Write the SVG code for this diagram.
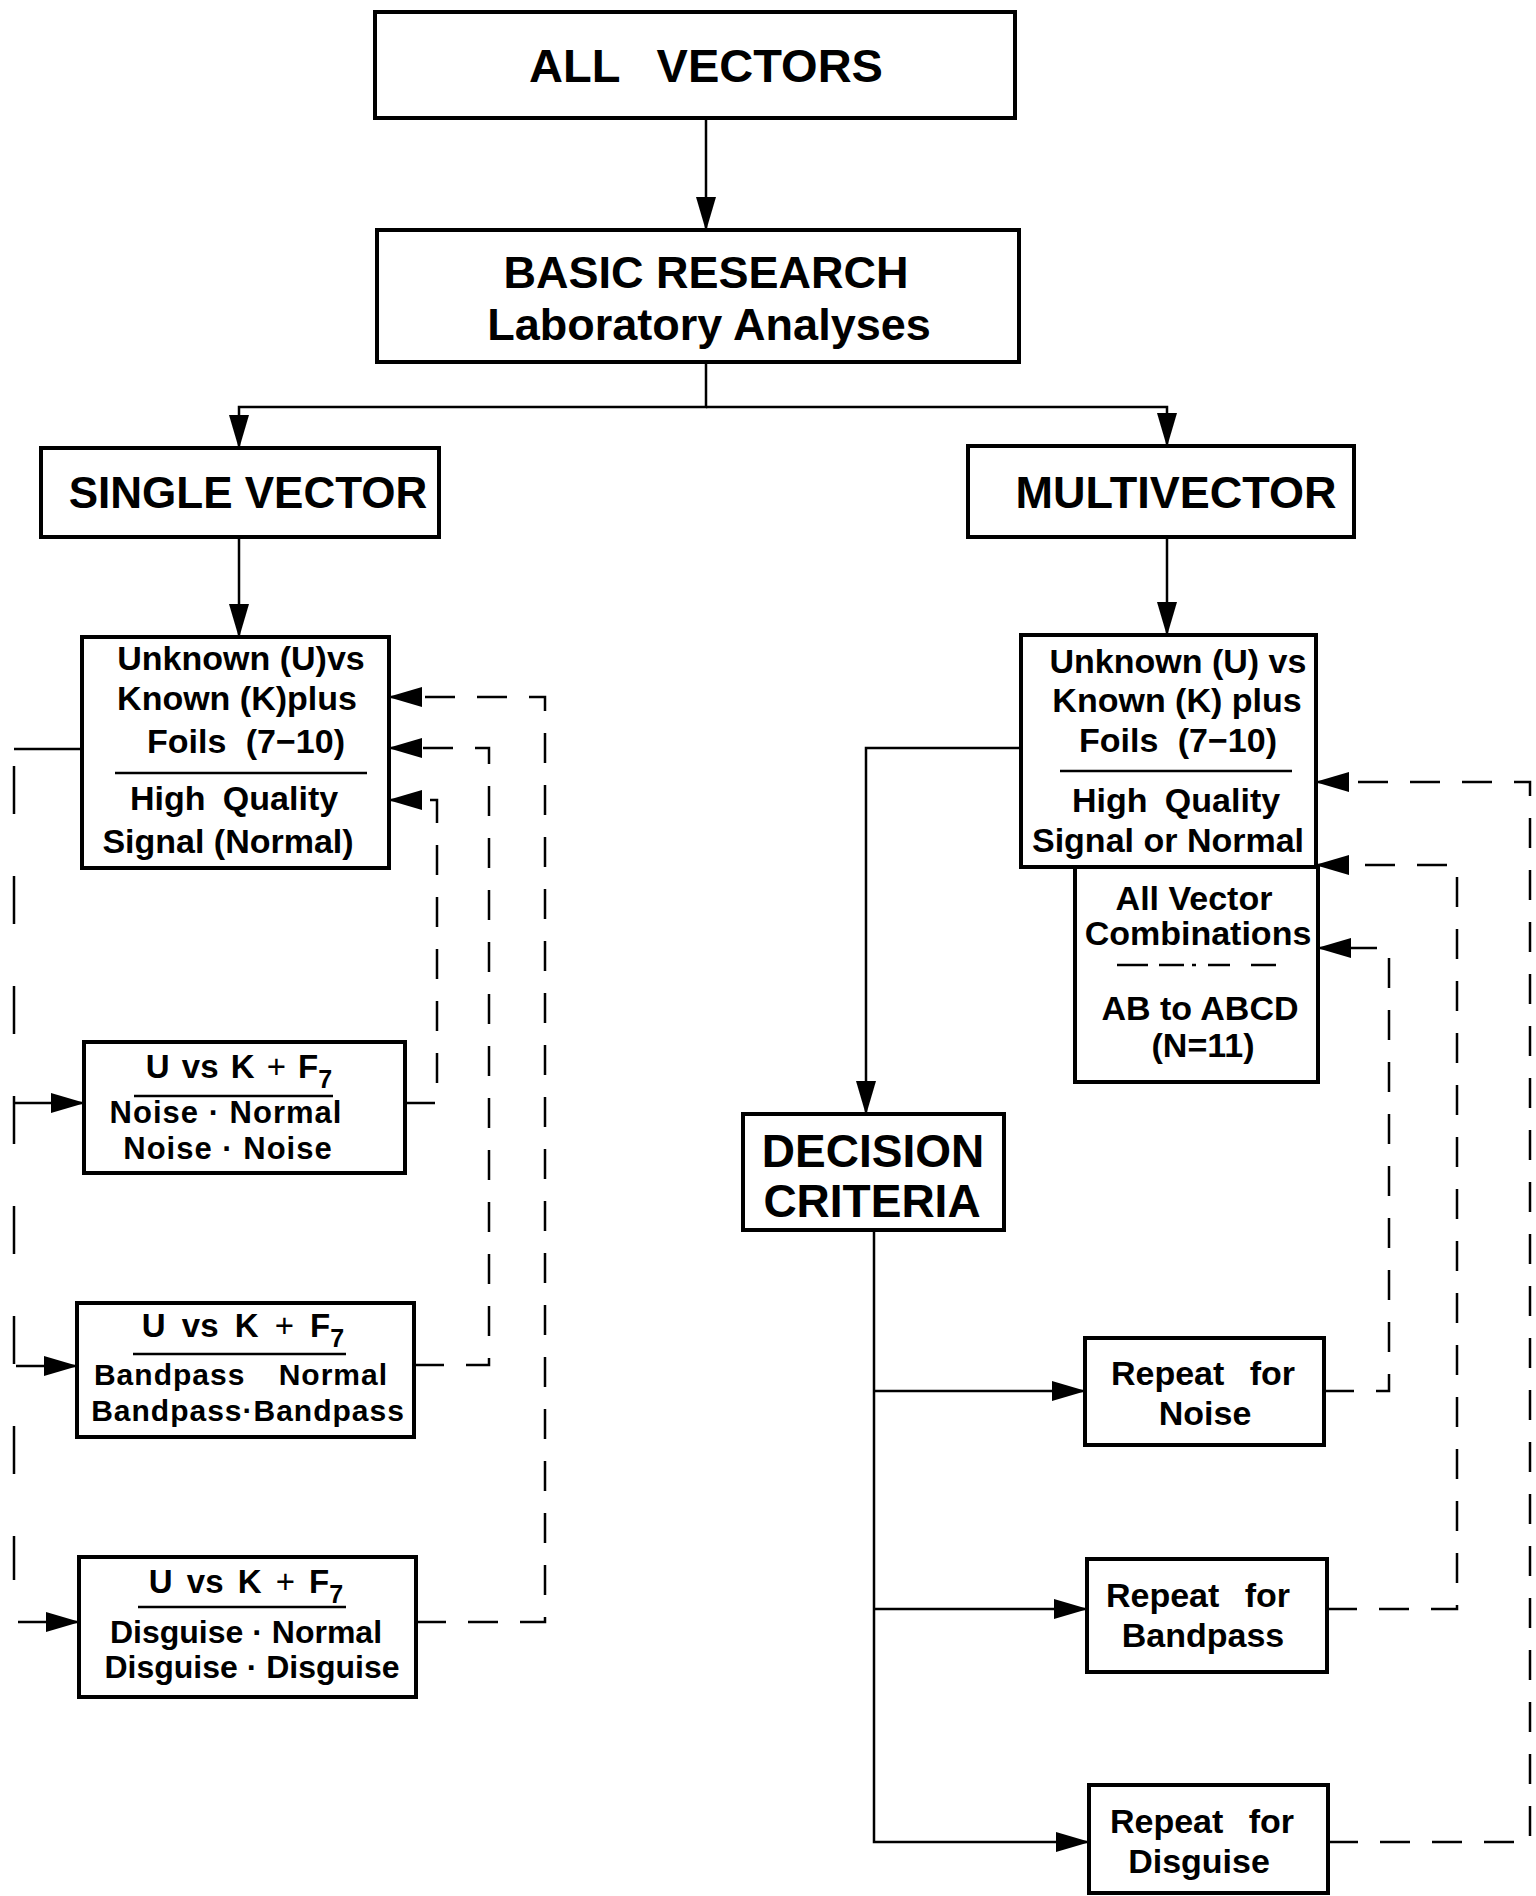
<svg xmlns="http://www.w3.org/2000/svg" width="1536" height="1896" viewBox="0 0 1536 1896">
<style>
.box{fill:#fff;stroke:#000;stroke-width:4}
.t{font-family:"Liberation Sans",Arial,Helvetica,sans-serif;font-weight:bold;fill:#000;text-anchor:middle}
.big{font-size:45px}
.m{font-size:34px}
.s{font-size:32px}
.c{fill:none;stroke:#000;stroke-width:2.5}
.d{stroke-dasharray:30 22}
.dl{stroke-dasharray:48 62}
.rule{stroke:#000;stroke-width:2.5}
.pl{font-weight:normal}
</style>
<defs>
<marker id="ah" markerUnits="userSpaceOnUse" markerWidth="34" markerHeight="20" refX="33" refY="10" orient="auto">
<path d="M0,0 L34,10 L0,20 Z" fill="#000"/>
</marker>
</defs>
<rect x="0" y="0" width="1536" height="1896" fill="#fff"/>

<g id="connectors">
<path class="c" d="M706,118 V230" marker-end="url(#ah)"/>
<path class="c" d="M706,362 V407 H239 V448" marker-end="url(#ah)"/>
<path class="c" d="M706,407 H1167 V446" marker-end="url(#ah)"/>
<path class="c" d="M239,537 V637" marker-end="url(#ah)"/>
<path class="c" d="M1167,537 V635" marker-end="url(#ah)"/>
<path class="c" d="M82,749 H14"/>
<path class="c dl" d="M14,766 V1580"/>
<path class="c" d="M14,1103 H84" marker-end="url(#ah)"/>
<path class="c" d="M16,1366 H77" marker-end="url(#ah)"/>
<path class="c" d="M18,1622 H79" marker-end="url(#ah)"/>
<path class="c d" d="M405,1103 H437 V800 H389" marker-end="url(#ah)"/>
<path class="c d" d="M414,1365 H489 V748 H389" marker-end="url(#ah)"/>
<path class="c d" d="M416,1622 H545 V697 H389" marker-end="url(#ah)"/>
<path class="c" d="M1021,748 H866 V1114" marker-end="url(#ah)"/>
<path class="c" d="M874,1230 V1842 H1089" marker-end="url(#ah)"/>
<path class="c" d="M874,1391 H1085" marker-end="url(#ah)"/>
<path class="c" d="M874,1609 H1087" marker-end="url(#ah)"/>
<path class="c d" d="M1324,1391 H1389 V948 H1318" marker-end="url(#ah)"/>
<path class="c d" d="M1327,1609 H1457 V865 H1316" marker-end="url(#ah)"/>
<path class="c d" d="M1328,1842 H1530 V782 H1316" marker-end="url(#ah)"/>
</g>

<g id="all-vectors">
<rect class="box" x="375" y="12" width="640" height="106"/>
<text class="t" x="706" y="82" font-size="47" word-spacing="24">ALL VECTORS</text>
</g>

<g id="basic-research">
<rect class="box" x="377" y="230" width="642" height="132"/>
<text class="t big" x="706" y="288">BASIC RESEARCH</text>
<text class="t big" x="709" y="340">Laboratory Analyses</text>
</g>

<g id="single-vector">
<rect class="box" x="41" y="448" width="398" height="89"/>
<text class="t" x="248" y="508" font-size="44">SINGLE VECTOR</text>
</g>

<g id="multivector">
<rect class="box" x="968" y="446" width="386" height="91"/>
<text class="t big" x="1176" y="508">MULTIVECTOR</text>
</g>

<g id="single-unknown">
<rect class="box" x="82" y="637" width="307" height="231"/>
<text class="t m" x="241" y="670">Unknown (U)vs</text>
<text class="t m" x="237" y="710">Known (K)plus</text>
<text class="t m" x="246" y="753" word-spacing="10">Foils (7−10)</text>
<line class="rule" x1="115" y1="773" x2="367" y2="773"/>
<text class="t m" x="234" y="810" word-spacing="8">High Quality</text>
<text class="t m" x="228" y="853">Signal (Normal)</text>
</g>

<g id="single-noise">
<rect class="box" x="84" y="1042" width="321" height="131"/>
<text class="t" x="239" y="1078" font-size="33" word-spacing="3">U vs K <tspan class="pl">+</tspan> F<tspan dy="10" font-size="25">7</tspan></text>
<line class="rule" x1="134" y1="1096" x2="333" y2="1096"/>
<text class="t" x="226" y="1123" font-size="31" letter-spacing="1">Noise · Normal</text>
<text class="t" x="228" y="1159" font-size="31" letter-spacing="1">Noise · Noise</text>
</g>

<g id="single-bandpass">
<rect class="box" x="77" y="1303" width="337" height="134"/>
<text class="t" x="243" y="1337" font-size="33" word-spacing="7">U vs K <tspan class="pl">+</tspan> F<tspan dy="10" font-size="25">7</tspan></text>
<line class="rule" x1="133" y1="1354" x2="346" y2="1354"/>
<text class="t" x="241" y="1385" font-size="30" letter-spacing="1" word-spacing="24">Bandpass Normal</text>
<text class="t" x="248" y="1421" font-size="30" letter-spacing="1">Bandpass·Bandpass</text>
</g>

<g id="single-disguise">
<rect class="box" x="79" y="1557" width="337" height="140"/>
<text class="t" x="246" y="1593" font-size="33" word-spacing="5">U vs K <tspan class="pl">+</tspan> F<tspan dy="10" font-size="25">7</tspan></text>
<line class="rule" x1="138" y1="1607" x2="346" y2="1607"/>
<text class="t s" x="246" y="1643">Disguise · Normal</text>
<text class="t s" x="252" y="1678">Disguise · Disguise</text>
</g>

<g id="multi-unknown">
<rect class="box" x="1021" y="635" width="295" height="232"/>
<text class="t m" x="1178" y="673">Unknown (U) vs</text>
<text class="t m" x="1177" y="712">Known (K) plus</text>
<text class="t m" x="1178" y="752" word-spacing="10">Foils (7−10)</text>
<line class="rule" x1="1060" y1="771" x2="1292" y2="771"/>
<text class="t m" x="1176" y="812" word-spacing="8">High Quality</text>
<text class="t m" x="1168" y="852">Signal or Normal</text>
</g>

<g id="multi-combinations">
<rect class="box" x="1075" y="867" width="243" height="215"/>
<text class="t m" x="1194" y="910">All Vector</text>
<text class="t m" x="1198" y="945">Combinations</text>
<g class="rule">
<line x1="1117" y1="965" x2="1148" y2="965"/>
<line x1="1159" y1="965" x2="1184" y2="965"/>
<line x1="1192" y1="965" x2="1196" y2="965"/>
<line x1="1208" y1="965" x2="1230" y2="965"/>
<line x1="1251" y1="965" x2="1276" y2="965"/>
</g>
<text class="t m" x="1200" y="1020">AB to ABCD</text>
<text class="t m" x="1203" y="1057">(N=11)</text>
</g>

<g id="decision-criteria">
<rect class="box" x="743" y="1114" width="261" height="116"/>
<text class="t" x="873" y="1167" font-size="46">DECISION</text>
<text class="t" x="872" y="1217" font-size="46">CRITERIA</text>
</g>

<g id="repeat-noise">
<rect class="box" x="1085" y="1338" width="239" height="107"/>
<text class="t m" x="1203" y="1385" word-spacing="16">Repeat for</text>
<text class="t m" x="1205" y="1425">Noise</text>
</g>

<g id="repeat-bandpass">
<rect class="box" x="1087" y="1559" width="240" height="113"/>
<text class="t m" x="1198" y="1607" word-spacing="16">Repeat for</text>
<text class="t m" x="1203" y="1647">Bandpass</text>
</g>

<g id="repeat-disguise">
<rect class="box" x="1089" y="1785" width="239" height="108"/>
<text class="t m" x="1202" y="1833" word-spacing="16">Repeat for</text>
<text class="t m" x="1199" y="1873">Disguise</text>
</g>
</svg>
